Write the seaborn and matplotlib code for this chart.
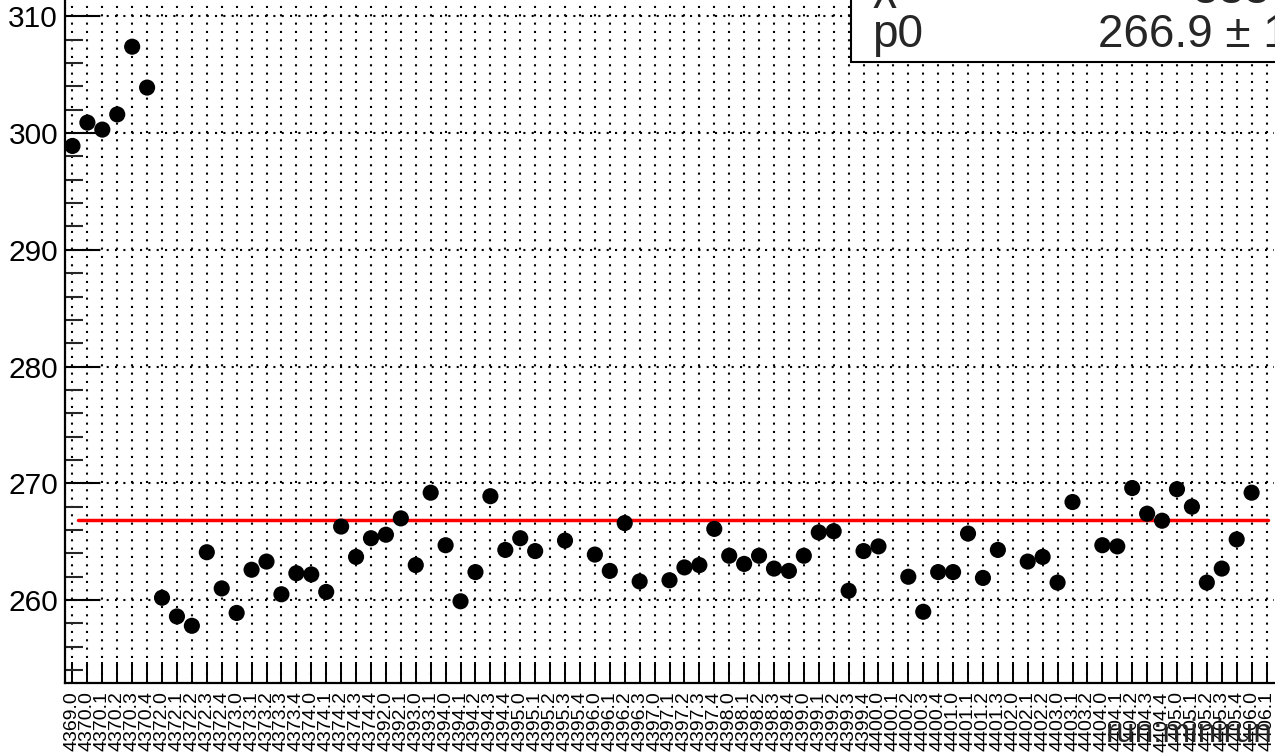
import numpy as np
import pandas as pd
import seaborn as sns
import matplotlib.pyplot as plt
from matplotlib.patches import Rectangle
from matplotlib.ticker import MultipleLocator

# run.minirun labels, one per bin
labels = ['4369.0',
          '4370.0', '4370.1', '4370.2', '4370.3', '4370.4',
          '4372.0', '4372.1', '4372.2', '4372.3', '4372.4',
          '4373.0', '4373.1', '4373.2', '4373.3', '4373.4',
          '4374.0', '4374.1', '4374.2', '4374.3', '4374.4',
          '4392.0', '4392.1', '4393.0', '4393.1',
          '4394.0', '4394.1', '4394.2', '4394.3', '4394.4',
          '4395.0', '4395.1', '4395.2', '4395.3', '4395.4',
          '4396.0', '4396.1', '4396.2', '4396.3',
          '4397.0', '4397.1', '4397.2', '4397.3', '4397.4',
          '4398.0', '4398.1', '4398.2', '4398.3', '4398.4',
          '4399.0', '4399.1', '4399.2', '4399.3', '4399.4',
          '4400.0', '4400.1', '4400.2', '4400.3', '4400.4',
          '4401.0', '4401.1', '4401.2', '4401.3',
          '4402.0', '4402.1', '4402.2',
          '4403.0', '4403.1', '4403.2',
          '4404.0', '4404.1', '4404.2', '4404.3', '4404.4',
          '4405.0', '4405.1', '4405.2', '4405.3', '4405.4',
          '4406.0', '4406.1']

nan = np.nan
values = [298.9,
          300.9, 300.3, 301.6, 307.4, 303.9,
          260.2, 258.6, 257.8, 264.1, 261.0,
          258.9, 262.6, 263.3, 260.5, 262.3,
          262.2, 260.7, 266.3, 263.7, 265.3,
          265.6, 267.0, 263.0, 269.2,
          264.7, 259.9, 262.4, 268.9, 264.3,
          265.3, 264.2, nan, 265.1, nan,
          263.9, 262.5, 266.6, 261.6,
          nan, 261.7, 262.8, 263.0, 266.1,
          263.8, 263.1, 263.8, 262.7, 262.5,
          263.8, 265.8, 265.9, 260.8, 264.2,
          264.6, nan, 262.0, 259.0, 262.4,
          262.4, 265.7, 261.9, 264.3,
          nan, 263.3, 263.7,
          261.5, 268.4, nan,
          264.7, 264.6, 269.6, 267.4, 266.8,
          269.5, 268.0, 261.5, 262.7, 265.2,
          269.2, nan]

# constant fit
p0 = 266.9
fit_lo, fit_hi = 0.4, 80.1
chi2_txt = '3337 / 73'
p0_txt = '266.9 \u00b1 1.1'

sns.set_style("ticks")
plt.rcParams['font.family'] = ['Liberation Sans', 'DejaVu Sans']

df = pd.DataFrame({'bin': np.arange(len(labels)), 'val': values})

W, H = 1275, 754
fig = plt.figure(figsize=(W / 100, H / 100), dpi=100)
ax = fig.add_axes([65 / W, 71 / H, 1209 / W, 683 / H])

ax.grid(True, which='major', color='black', linestyle=(0, (1, 3)), lw=1.5)
ax.set_axisbelow(True)
sns.scatterplot(data=df, x='bin', y='val', color='black', s=135,
                edgecolor='none', ax=ax, zorder=3)
ax.plot([fit_lo, fit_hi], [p0, p0], color='red', lw=2.5, zorder=2)

ax.set_xlim(-0.5, len(labels) - 0.5)
ax.set_ylim(252.9, 311.4)
ax.set_xticks(range(len(labels)))
ax.set_xticklabels(labels, rotation=90, fontsize=14)
ax.yaxis.set_major_locator(MultipleLocator(10))
ax.yaxis.set_minor_locator(MultipleLocator(2))
ax.tick_params(axis='x', direction='in', length=15, width=1.4, pad=6, colors='black')
ax.tick_params(axis='y', which='major', direction='in', length=25, width=1.5,
               labelsize=21.5, pad=5, colors='black')
ax.tick_params(axis='y', which='minor', direction='in', length=13, width=1.5)
ax.set_xlabel('')
ax.set_ylabel('')
for s in ['top', 'right']:
    ax.spines[s].set_visible(False)
for s in ['left', 'bottom']:
    ax.spines[s].set_linewidth(1.6)
    ax.spines[s].set_color('black')

fig.text(1273 / W, 1 - 742 / H, 'run:minirun', ha='right', va='baseline', fontsize=24)

# stat box, cut off by the top/right edges
box = Rectangle((851 / W, 1 - 62 / H), 1, 1, transform=fig.transFigure,
                facecolor='white', edgecolor='black', lw=1.5, zorder=5, clip_on=False)
fig.add_artist(box)
fig.text(872 / W, 1 + 2 / H, '\u03c7$^2$ / ndf', ha='left', va='baseline',
         fontsize=33, zorder=6)
fig.text(1193 / W, 1 - 3 / H, chi2_txt, ha='left', va='baseline', fontsize=33, zorder=6)
fig.text(872 / W, 1 - 47 / H, 'p0', ha='left', va='baseline', fontsize=33, zorder=6)
fig.text(1098 / W, 1 - 47 / H, p0_txt, ha='left', va='baseline', fontsize=33, zorder=6)

fig.savefig('out.png', dpi=100)
